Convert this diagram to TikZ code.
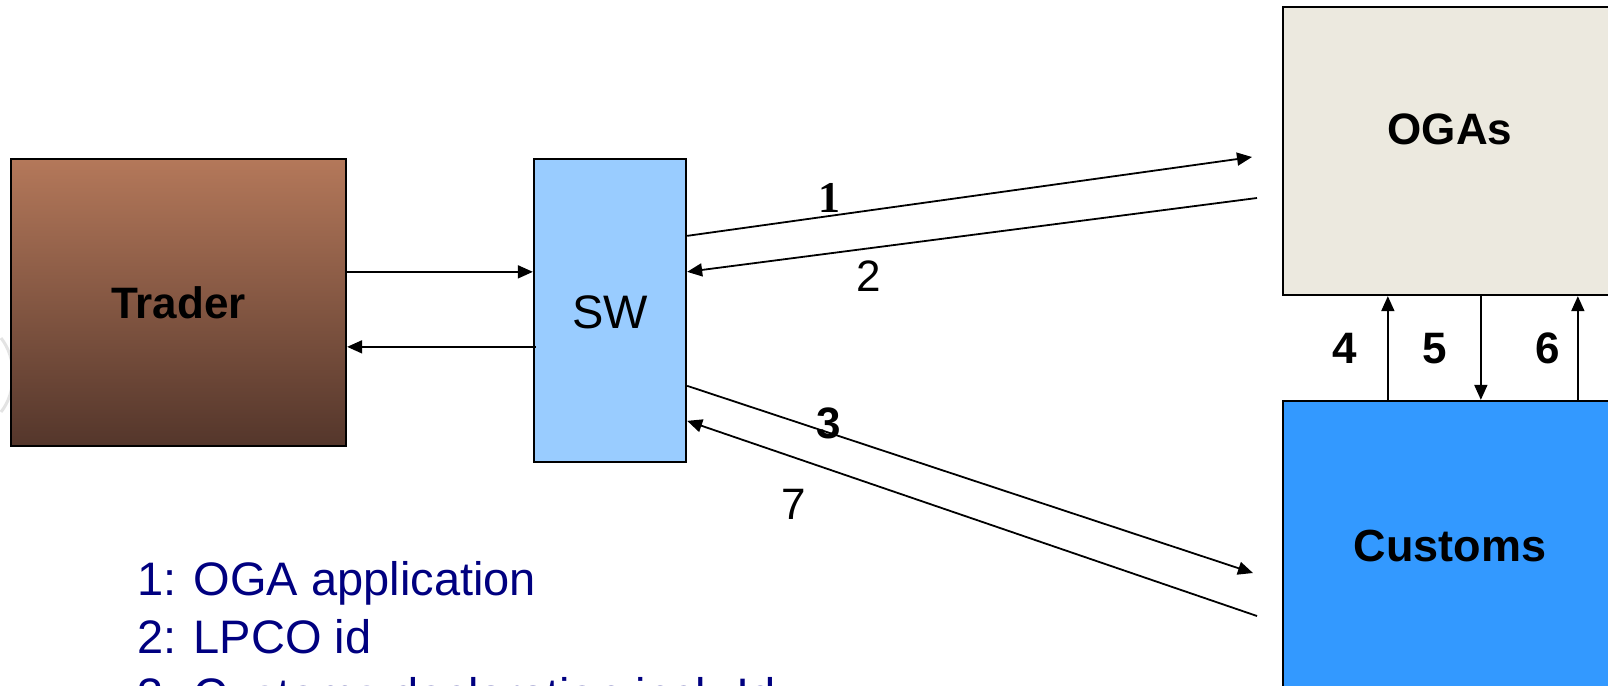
\documentclass[tikz,border=0pt]{standalone}
\usepackage{fontspec}
\setmainfont{Liberation Sans}
\newfontfamily\tnrfont{Liberation Serif}
\usetikzlibrary{arrows.meta}
\definecolor{swblue}{HTML}{99CCFF}
\definecolor{ogabg}{HTML}{ECE9DF}
\definecolor{cusblue}{HTML}{3399FF}
\definecolor{trtop}{HTML}{B4785A}
\definecolor{trbot}{HTML}{54362B}
\definecolor{legnavy}{HTML}{000080}
\tikzset{
  box/.style={draw=black, line width=2.3pt, inner sep=0pt},
  bigbold/.style={font=\fontsize{44}{52}\selectfont\bfseries, inner sep=0pt, anchor=base},
  bigreg/.style={font=\fontsize{44}{52}\selectfont, inner sep=0pt, anchor=base},
  legend/.style={font=\fontsize{47}{56}\selectfont, text=legnavy, inner sep=0pt, anchor=base west},
  conn/.style={line width=1.8pt, -{Triangle[length=15pt,width=13pt]}}
}
\begin{document}
\begin{tikzpicture}[x=1pt, y=-1pt]
\useasboundingbox (0,0) rectangle (1608,685);
\clip (0,0) rectangle (1608,685);
\fill[white] (0,0) rectangle (1608,685);

% faint arc at the left edge
\draw[gray!22, line width=3pt] (1,338) .. controls (17,358) and (17,392) .. (1,412);

% boxes
\node[box, top color=trtop, bottom color=trbot, minimum width=335pt, minimum height=287pt] (trader) at (178.5,302.5) {};
\node[box, fill=swblue, minimum width=152pt, minimum height=303pt] (sw) at (610,310.5) {};
\node[box, fill=ogabg, minimum width=334pt, minimum height=288pt] (oga) at (1450,151) {};
\node[box, fill=cusblue, minimum width=334pt, minimum height=288pt] (cus) at (1450,545) {};

% box texts
\node[bigbold] (tradertxt) at (178.5,318) {Trader};
\node[bigreg, font=\fontsize{47}{56}\selectfont] (swtxt) at (610,328) {SW};
\node[bigbold] (ogatxt) at (1450,144) {OGAs};
\node[bigbold, font=\fontsize{45}{54}\selectfont\bfseries] (custxt) at (1450,561.5) {Customs};

% free ends near OGAs / Customs
\coordinate (e1) at (1252,157);
\coordinate (s2) at (1257,198);
\coordinate (e3) at (1253,573);
\coordinate (s7) at (1257,616);

% Trader <-> SW
\draw[conn] ([yshift=-114pt]trader.north east) -- ([yshift=-114pt]sw.north west);
\draw[conn] ([yshift=-189pt,xshift=3pt]sw.north west) -- ([yshift=-189pt]trader.north east);

% SW <-> OGAs
\draw[conn] ([yshift=-78pt]sw.north east) -- (e1);
\draw[conn] (s2) -- ([yshift=-114pt]sw.north east);

% SW <-> Customs
\draw[conn] ([yshift=-228pt]sw.north east) -- (e3);
\draw[conn] (s7) -- ([yshift=-263pt]sw.north east);

% Customs <-> OGAs
\draw[conn] ([xshift=106pt]cus.north west) -- ([xshift=106pt]oga.south west);
\draw[conn] ([xshift=199pt]oga.south west) -- ([xshift=199pt]cus.north west);
\draw[conn] ([xshift=296pt]cus.north west) -- ([xshift=296pt]oga.south west);

% connector labels
\node[bigbold, font=\fontsize{44}{52}\selectfont\tnrfont\bfseries] (l1) at (829,212) {1};
\node[bigreg] (l2) at (869,291) {2};
\node[bigbold] (l3) at (829,438) {3};
\node[bigreg] (l7) at (794,519) {7};
\node[bigbold] (l4) at (1345,363) {4};
\node[bigbold] (l5) at (1435,363) {5};
\node[bigbold] (l6) at (1548,363) {6};

% legend
\node[legend] (leg1) at (137,595) {1: OGA application};
\node[legend] (leg2) at (137,653) {2: LPCO id};
\node[legend] (leg3) at (137,711) {3: Customs declaration incl. Id};
\end{tikzpicture}
\end{document}
